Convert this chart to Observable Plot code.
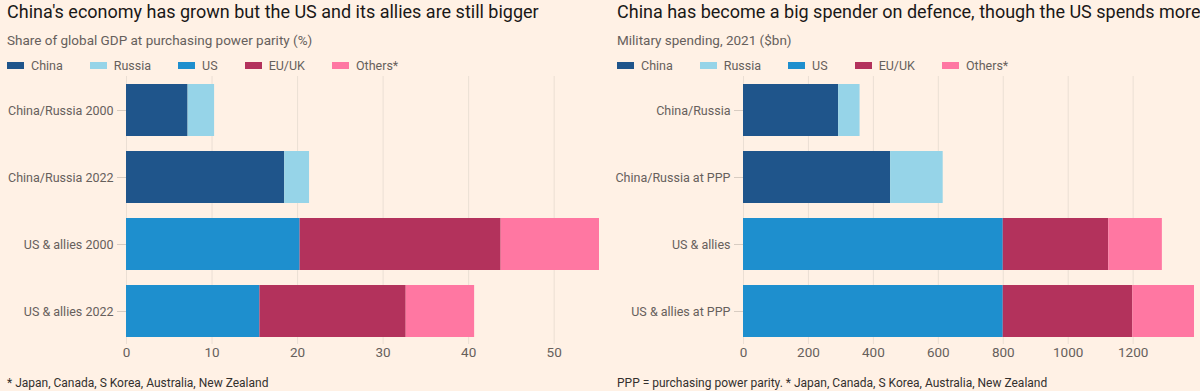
<!DOCTYPE html>
<html>
<head>
<meta charset="utf-8">
<script src="https://cdn.jsdelivr.net/npm/d3@7"></script>
<script src="https://cdn.jsdelivr.net/npm/@observablehq/plot@0.6"></script>
<style>
  html, body { margin: 0; padding: 0; background: #fff1e5; }
  body { width: 1200px; height: 391px; overflow: hidden; position: relative; font-family: Roboto, "Noto Sans", sans-serif; }
  .panel { position: absolute; top: 0; width: 600px; height: 391px; }
  .title { position: absolute; white-space: nowrap; font-size: 18px; line-height: 18px; color: #1a1817; top: 3px; }
  .subtitle { position: absolute; white-space: nowrap; font-size: 13.5px; line-height: 14px; color: #66605c; top: 33px; }
  .legend { position: absolute; top: 59px; display: flex; align-items: center; font-size: 12.5px; line-height: 13px; color: #66605c; white-space: nowrap; }
  .legend .item { display: flex; align-items: center; margin-right: 27px; }
  .legend .sw { width: 17px; height: 7px; margin-right: 7px; }
  .chart { position: absolute; top: 72px; left: 0; }
  .foot { position: absolute; top: 377px; white-space: nowrap; font-size: 12px; line-height: 13px; color: #33302e; }
</style>
</head>
<body>
<div class="panel" id="left" style="left:0"></div>
<div class="panel" id="right" style="left:600px"></div>
<script>
// ---------- data ----------
const seriesNames = ["China", "Russia", "US", "EU/UK", "Others*"];
const seriesColors = ["#1f558b", "#96d4e8", "#1e8fce", "#b3325c", "#ff77a2"];

// Left: share of global GDP at PPP (%)
const gdpCategories = ["China/Russia 2000", "China/Russia 2022", "US & allies 2000", "US & allies 2022"];
const gdpChina  = [7.2, 18.5, 0, 0];
const gdpRussia = [3.1, 2.9, 0, 0];
const gdpUS     = [0, 0, 20.3, 15.6];
const gdpEUUK   = [0, 0, 23.5, 17.1];
const gdpOthers = [0, 0, 11.5, 8.0];
const gdpTicks  = [0, 10, 20, 30, 40, 50];

// Right: military spending, 2021 ($bn)
const milCategories = ["China/Russia", "China/Russia at PPP", "US & allies", "US & allies at PPP"];
const milChina  = [293, 453, 0, 0];
const milRussia = [66, 162, 0, 0];
const milUS     = [0, 0, 800, 800];
const milEUUK   = [0, 0, 325, 399];
const milOthers = [0, 0, 165, 190];
const milTicks  = [0, 200, 400, 600, 800, 1000, 1200];

const panels = [
  {
    id: "left", textLeft: 7,
    title: "China's economy has grown but the US and its allies are still bigger",
    subtitle: "Share of global GDP at purchasing power parity (%)",
    foot: "* Japan, Canada, S Korea, Australia, New Zealand",
    cats: gdpCategories, values: [gdpChina, gdpRussia, gdpUS, gdpEUUK, gdpOthers],
    ticks: gdpTicks, marginLeft: 126, marginRight: 1
  },
  {
    id: "right", textLeft: 17,
    title: "China has become a big spender on defence, though the US spends more",
    subtitle: "Military spending, 2021 ($bn)",
    foot: "PPP = purchasing power parity. * Japan, Canada, S Korea, Australia, New Zealand",
    cats: milCategories, values: [milChina, milRussia, milUS, milEUUK, milOthers],
    ticks: milTicks, marginLeft: 143, marginRight: 6
  }
];

for (const p of panels) {
  const el = document.getElementById(p.id);

  const t = document.createElement("div");
  t.className = "title"; t.style.left = p.textLeft + "px"; t.textContent = p.title;
  el.appendChild(t);

  const s = document.createElement("div");
  s.className = "subtitle"; s.style.left = p.textLeft + "px"; s.textContent = p.subtitle;
  el.appendChild(s);

  const lg = document.createElement("div");
  lg.className = "legend"; lg.style.left = p.textLeft + "px";
  seriesNames.forEach((n, i) => {
    const it = document.createElement("div"); it.className = "item";
    const sw = document.createElement("div"); sw.className = "sw"; sw.style.background = seriesColors[i];
    const lb = document.createElement("span"); lb.textContent = n;
    it.appendChild(sw); it.appendChild(lb); lg.appendChild(it);
  });
  el.appendChild(lg);

  const rows = [];
  p.cats.forEach((c, ci) => {
    seriesNames.forEach((n, si) => {
      const v = p.values[si][ci];
      if (v > 0) rows.push({cat: c, series: n, value: v});
    });
  });

  const chart = Plot.plot({
    width: 600, height: 295,
    marginTop: 4, marginBottom: 23, marginLeft: p.marginLeft, marginRight: p.marginRight,
    style: {background: "transparent", fontFamily: "Roboto, 'Noto Sans', sans-serif", fontSize: "12.5px", color: "#66605c", overflow: "visible"},
    x: {label: null},
    y: {domain: p.cats, label: null, paddingInner: 0.227, paddingOuter: 0.1},
    color: {domain: seriesNames, range: seriesColors},
    marks: [
      Plot.ruleX(p.ticks, {stroke: "#ebdfd4", strokeWidth: 1}),
      Plot.barX(rows, {x: "value", y: "cat", fill: "series"}),
      Plot.axisY({tickSize: 9, tickPadding: 4, stroke: "#d8ccc1", label: null, fontSize: 12.5}),
      Plot.axisX({ticks: p.ticks, tickFormat: d => String(d), tickSize: 0, tickPadding: 3, label: null, fontSize: 13.5})
    ]
  });
  chart.classList.add("chart");
  el.appendChild(chart);

  const f = document.createElement("div");
  f.className = "foot"; f.style.left = p.textLeft + "px"; f.textContent = p.foot;
  el.appendChild(f);
}
</script>
</body>
</html>
